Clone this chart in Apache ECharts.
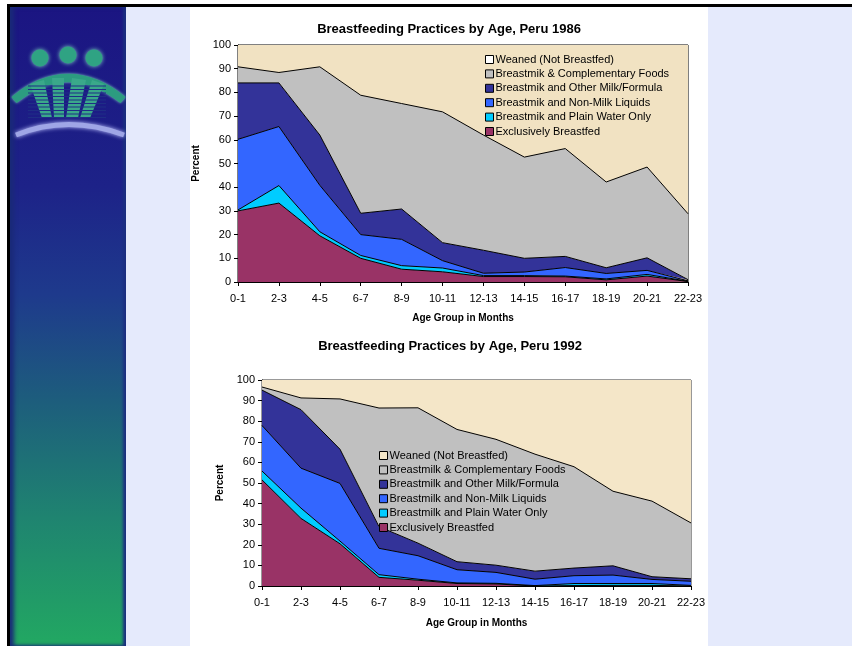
<!DOCTYPE html>
<html><head><meta charset="utf-8">
<script src="https://cdn.jsdelivr.net/npm/echarts@6/dist/echarts.min.js"></script>
<style>
html,body{margin:0;padding:0;width:852px;height:646px;overflow:hidden;background:#fff;}
.p{position:absolute;}
#c{position:absolute;left:0;top:0;width:852px;height:646px;}
</style></head><body>
<div class="p" style="left:7px;top:4px;width:845px;height:3px;background:#000"></div>
<div class="p" style="left:7px;top:4px;width:3px;height:642px;background:#000"></div>
<div class="p" style="left:10px;top:7px;width:116px;height:639px;background:linear-gradient(to bottom,#1b1582 0%,#1d2288 28%,#1e3a8c 45%,#1d5e7c 62%,#1f8470 80%,#22a862 100%);box-shadow:inset 4px 0 4px #1a2a78, inset -3px 0 3px #1b2f80"></div>
<div class="p" style="left:126px;top:7px;width:64px;height:639px;background:#e5eafc"></div>
<div class="p" style="left:708px;top:7px;width:144px;height:639px;background:#e5eafc"></div>
<div id="c"></div>
<script>
const categories = ['0-1','2-3','4-5','6-7','8-9','10-11','12-13','14-15','16-17','18-19','20-21','22-23'];

// Peru 1986 (percent, stacked)
const excl86    = [30.0, 33.3, 19.5, 10.0, 5.4, 4.3, 2.3, 2.3, 2.2, 0.9, 2.5, 0.2];
const water86   = [0.4, 7.4, 1.7, 1.2, 1.5, 1.6, 0.4, 0.4, 0.3, 0.4, 0.7, 0.1];
const nonMilk86 = [29.8, 24.9, 19.6, 8.8, 11.1, 3.1, 1.0, 1.5, 3.6, 2.3, 1.7, 0.2];
const milk86    = [23.8, 18.4, 21.2, 9.0, 12.8, 7.6, 9.7, 5.8, 4.7, 2.4, 5.3, 0.5];
const comp86    = [6.8, 4.4, 28.8, 49.8, 44.5, 55.2, 48.6, 42.7, 45.5, 36.2, 38.3, 27.8];
const weaned86  = [9.2, 11.6, 9.2, 21.2, 24.7, 28.2, 38.0, 47.3, 43.7, 57.8, 51.5, 71.2];

// Peru 1992 (percent, stacked)
const excl92    = [51.5, 32.8, 20.5, 4.2, 2.8, 1.2, 1.0, 0.0, 0.2, 0.3, 0.3, 0.0];
const water92   = [4.3, 5.0, 1.3, 1.3, 0.5, 0.3, 0.3, 0.2, 1.0, 0.9, 0.9, 0.3];
const nonMilk92 = [22.1, 19.4, 28.0, 12.8, 11.4, 6.4, 5.3, 3.1, 3.8, 4.1, 2.0, 2.0];
const milk92    = [17.2, 28.4, 16.6, 10.5, 6.1, 3.9, 3.5, 3.9, 3.7, 4.5, 1.3, 1.2];
const comp92    = [1.5, 5.7, 24.4, 57.6, 65.7, 64.2, 61.1, 56.8, 49.2, 36.2, 36.7, 27.1];
const weaned92  = [3.4, 8.7, 9.2, 13.6, 13.5, 24.0, 28.8, 36.0, 42.1, 54.0, 58.8, 69.4];

const names86 = ['Weaned (Not Breastfed)','Breastmik & Complementary Foods','Breastmik and Other Milk/Formula','Breastmik and Non-Milk Liquids','Breastmik and Plain Water Only','Exclusively Breastfed'];
const names92 = ['Weaned (Not Breastfed)','Breastmilk & Complementary Foods','Breastmilk and Other Milk/Formula','Breastmilk and Non-Milk Liquids','Breastmilk and Plain Water Only','Exclusively Breastfed'];
const titles = ['Breastfeeding Practices by Age, Peru 1986','Breastfeeding Practices by Age, Peru 1992'];

const FONT = 'Arial, "Liberation Sans", sans-serif';
const C = {excl:'#993366', water:'#00CCFF', nonMilk:'#3366FF', milk:'#333399', comp:'#C0C0C0', tan86:'#F1E2C2', tan92:'#F4E6C8'};

function area(name, data, color, stack, idx, lw) {
  return {type:'line', name, data, stack, xAxisIndex:idx, yAxisIndex:idx,
    symbol:'none', showSymbol:false, silent:true, animation:false,
    areaStyle:{color, opacity:1}, itemStyle:{color},
    lineStyle:{color:'#000', width:lw}, emphasis:{disabled:true}};
}

const series = [
  area('Exclusively Breastfed', excl86, C.excl, 'a', 0, 1),
  area(names86[4], water86, C.water, 'a', 0, 1),
  area(names86[3], nonMilk86, C.nonMilk, 'a', 0, 1),
  area(names86[2], milk86, C.milk, 'a', 0, 1),
  area(names86[1], comp86, C.comp, 'a', 0, 1),
  area('Weaned (Not Breastfed)', weaned86, C.tan86, 'a', 0, 0),
  area('Exclusively Breastfed', excl92, C.excl, 'b', 1, 1),
  area(names92[4], water92, C.water, 'b', 1, 1),
  area(names92[3], nonMilk92, C.nonMilk, 'b', 1, 1),
  area(names92[2], milk92, C.milk, 'b', 1, 1),
  area(names92[1], comp92, C.comp, 'b', 1, 1),
  area('Weaned (Not Breastfed)', weaned92, C.tan92, 'b', 1, 0)
];

const legendColors86 = ['#FFFFFF', C.comp, C.milk, C.nonMilk, C.water, C.excl];
const legendColors92 = [C.tan92, C.comp, C.milk, C.nonMilk, C.water, C.excl];

function legend(names, colors, left, top) {
  return {orient:'vertical', left, top, itemWidth:8, itemHeight:8, itemGap:3.4, icon:'rect',
    selectedMode:false, padding:0,
    data: names.map((n,i)=>({name:n, itemStyle:{color:colors[i], borderColor:'#000', borderWidth:1}})),
    textStyle:{fontSize:11, fontFamily:FONT, color:'#000', padding:[0,0,0,-3]}};
}

function xAxis(idx, gap, margin) {
  return {type:'category', gridIndex:idx, data:categories, boundaryGap:false,
    axisLine:{lineStyle:{color:'#000', width:1}},
    axisTick:{show:true, length:4, lineStyle:{color:'#000'}},
    axisLabel:{fontSize:11, fontFamily:FONT, color:'#000', margin, interval:0},
    name:'Age Group in Months', nameLocation:'middle', nameGap:gap,
    nameTextStyle:{fontSize:10, fontWeight:'bold', fontFamily:FONT, color:'#000'}};
}
function yAxis(idx, gap) {
  return {type:'value', gridIndex:idx, min:0, max:100, interval:10,
    axisLine:{show:true, lineStyle:{color:'#000', width:1}},
    axisTick:{show:true, length:4, lineStyle:{color:'#000'}},
    axisLabel:{fontSize:11, fontFamily:FONT, color:'#000', margin:7},
    splitLine:{show:false},
    name:'Percent', nameLocation:'middle', nameGap:gap, nameRotate:90,
    nameTextStyle:{fontSize:10, fontWeight:'bold', fontFamily:FONT, color:'#000'}};
}

// logo drawn as shapes
const logo = [];
logo.push({type:'bezierCurve', shape:{x1:14, y1:100, x2:123, y2:100, cpx1:68, cpy1:56},
  style:{stroke:'#2c9c80', lineWidth:8, fill:null, shadowBlur:3, shadowColor:'#80d0c0'}, silent:true});
[[40,58],[68,55],[94,58]].forEach(p => logo.push({type:'circle', shape:{cx:p[0], cy:p[1], r:8.5},
  style:{fill:'#2fa383', shadowBlur:4, shadowColor:'#7fd0c0'}, silent:true}));
const bodies = [[30,84,44,80,52,118,42,118],[52,78,64,78,64,118,54,118],[72,78,86,80,78,118,66,118],[92,80,104,84,90,118,80,118]];
bodies.forEach(b => logo.push({type:'polygon', shape:{points:[[b[0],b[1]],[b[2],b[3]],[b[4],b[5]],[b[6],b[7]]]},
  style:{fill:'#3aa88a'}, silent:true}));
for (let y = 86; y < 118; y += 3.5) {
  logo.push({type:'line', shape:{x1:28, y1:y, x2:106, y2:y}, style:{stroke:'#1f2e86', lineWidth:1}, silent:true});
}
logo.push({type:'bezierCurve', shape:{x1:16, y1:135, x2:124, y2:135, cpx1:68, cpy1:114},
  style:{stroke:'#9fa6e6', lineWidth:5, fill:null, shadowBlur:4, shadowColor:'#c0c6ff'}, silent:true});

const chart = echarts.init(document.getElementById('c'), null, {renderer:'canvas'});
chart.setOption({
  animation:false,
  backgroundColor:'transparent',
  grid:[
    {left:238, right:164, top:45, bottom:364, show:true, backgroundColor:C.tan86, borderColor:'#000', borderWidth:1},
    {left:262, right:161, top:380, bottom:60, show:true, backgroundColor:C.tan92, borderColor:'#333', borderWidth:1}
  ],
  xAxis:[xAxis(0, 31, 11), xAxis(1, 32, 11)],
  yAxis:[yAxis(0, 31), yAxis(1, 32)],
  legend:[legend(names86, legendColors86, 485, 54), legend(names92, legendColors92, 379, 450)],
  graphic:[
    {type:'text', x:449, y:29, style:{text:titles[0], fill:'#000', font:'bold 13px '+FONT, textAlign:'center', textVerticalAlign:'middle'}, silent:true},
    {type:'text', x:450, y:346, style:{text:titles[1], fill:'#000', font:'bold 13px '+FONT, textAlign:'center', textVerticalAlign:'middle'}, silent:true}
  ].concat(logo),
  series
});
</script>
</body></html>
